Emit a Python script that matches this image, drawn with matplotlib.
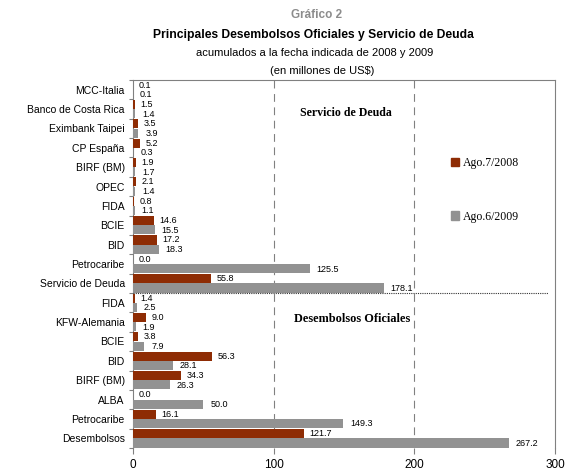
import matplotlib
matplotlib.use("Agg")
import matplotlib.pyplot as plt
from matplotlib.patches import Patch
import numpy as np

categories = ["MCC-Italia", "Banco de Costa Rica", "Eximbank Taipei", "CP España",
              "BIRF (BM)", "OPEC", "FIDA", "BCIE", "BID", "Petrocaribe",
              "Servicio de Deuda", "FIDA", "KFW-Alemania", "BCIE", "BID",
              "BIRF (BM)", "ALBA", "Petrocaribe", "Desembolsos"]
ago2008 = [0.1, 1.5, 3.5, 5.2, 1.9, 2.1, 0.8, 14.6, 17.2, 0.0,
           55.8, 1.4, 9.0, 3.8, 56.3, 34.3, 0.0, 16.1, 121.7]
ago2009 = [0.1, 1.4, 3.9, 0.3, 1.7, 1.4, 1.1, 15.5, 18.3, 125.5,
           178.1, 2.5, 1.9, 7.9, 28.1, 26.3, 50.0, 149.3, 267.2]
series_labels = ["Ago.7/2008", "Ago.6/2009"]
xticks = [0, 100, 200, 300]

RED = "#8E2C04"
GRAY = "#929292"
plt.rcParams['font.family'] = ['Liberation Sans', 'DejaVu Sans']

fig = plt.figure(figsize=(5.65, 4.70), dpi=100)
ax = fig.add_axes([133/565, 1-448/470, (555-133)/565, (448-80)/470])

y = np.arange(len(categories))
h = 0.47
ax.barh(y - 0.24, ago2008, height=h, color=RED, zorder=3)
ax.barh(y + 0.24, ago2009, height=h, color=GRAY, zorder=3)

for yi, v in zip(y, ago2008):
    ax.annotate(f"{v:.1f}", (v, yi - 0.24), xytext=(4, 0), textcoords="offset points",
                va="center", ha="left", fontsize=6.5, zorder=5)
for yi, v in zip(y, ago2009):
    ax.annotate(f"{v:.1f}", (v, yi + 0.26), xytext=(5, 0), textcoords="offset points",
                va="center", ha="left", fontsize=6.5, zorder=5)

ax.set_xlim(0, 300)
ax.set_ylim(len(categories) - 0.5, -0.5)
ax.set_xticks(xticks)
ax.set_xticklabels([str(t) for t in xticks], fontsize=8.5)
ax.set_yticks(y)
ax.set_yticklabels(categories, fontsize=7.5)
ax.set_yticks(np.arange(len(categories) + 1) - 0.5, minor=True)
ax.tick_params(axis='y', which='major', length=0, pad=6)
ax.tick_params(axis='y', which='minor', length=3, color="#808080", width=0.8)
ax.tick_params(axis='x', length=4, color="#808080", width=0.8, pad=4)

for s in ["left", "top", "right"]:
    ax.spines[s].set_color("#808080")
    ax.spines[s].set_linewidth(0.8)
ax.spines["bottom"].set_visible(False)

for gx in [100, 200]:
    ax.axvline(gx, color="#808080", linestyle=(0, (7, 5)), linewidth=0.8, zorder=1)

ax.plot([0, 295], [10.5, 10.5], color="#333333", linestyle=(0, (1, 1)), linewidth=0.8, zorder=4)

ax.text(151, 1.2, "Servicio de Deuda", ha="center", va="center", fontsize=8.6,
        fontweight="bold", family="Liberation Serif")
ax.text(156, 11.82, "Desembolsos Oficiales", ha="center", va="center", fontsize=8.8,
        fontweight="bold", family="Liberation Serif")

handles = [Patch(color=RED), Patch(color=GRAY)]
leg = ax.legend(handles, series_labels, loc="center left", bbox_to_anchor=(440/565, 1-190/470),
                bbox_transform=fig.transFigure, frameon=False, handlelength=0.7, handleheight=0.7,
                handletextpad=0.3, labelspacing=3.5, prop={"family": "Liberation Serif", "size": 8.5})

fig.text(0.56, 1-15/470, "Gráfico 2", ha="center", va="center", fontsize=8.5,
         fontweight="bold", color="#8c8c8c")
fig.text(0.555, 1-35/470, "Principales Desembolsos Oficiales y Servicio de Deuda",
         ha="center", va="center", fontsize=8.7, fontweight="bold")
fig.text(0.557, 1-53/470, "acumulados a la fecha indicada de 2008 y 2009",
         ha="center", va="center", fontsize=8)
fig.text(0.57, 1-71/470, "(en millones de US$)", ha="center", va="center", fontsize=8)

fig.savefig("out.png", dpi=100)
